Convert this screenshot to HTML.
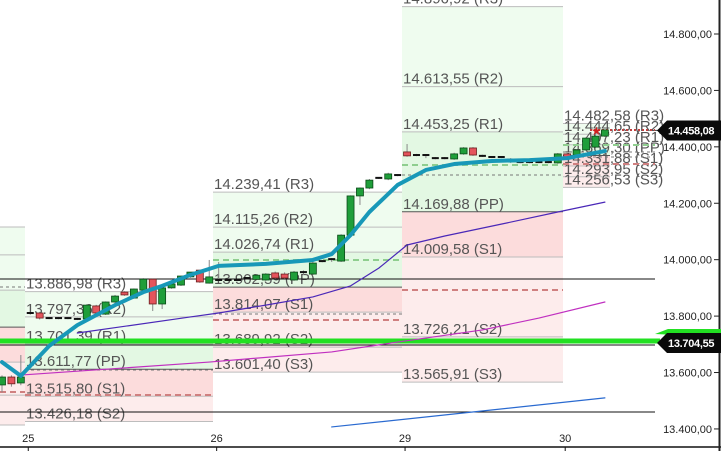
<!DOCTYPE html>
<html><head><meta charset="utf-8"><style>
html,body{margin:0;padding:0;background:#fff;}
svg{display:block;font-family:"Liberation Sans",Arial,sans-serif;}
</style></head><body>
<svg id="chart" width="721" height="451" viewBox="0 0 721 451"></svg>
<script>
// ---- data ----
const dayLabels = ["25","26","29","30"];
const dayTickIndex = [3,23,43,60];
const opens  = [13556,13584,13563,13811,13811,13793,13793,13793,13790,13790,13836,13807,13850,13885,13864,13892,13931,13843,13900,13910,13939,13963,13917,13928,13928,13928,13935,13930,13928,13953,13949,13928,13956,13949,13995,14002,13995,14087,14226,14254,14290,14286,14300,14382,14371,14371,14360,14360,14357,14375,14396,14368,14364,14364,14357,14346,14346,14346,14346,14343,14375,14371,14389,14399,14438];
const highs  = [13590,13590,13662,13815,13815,13797,13797,13797,13794,13842,13840,13852,13875,13888,13898,13935,13934,13850,13903,13918,13946,13960,13999,13992,13932,13932,13938,13948,13952,13958,13955,13960,13962,13992,13999,14006,14090,14228,14256,14286,14293,14308,14303,14410,14375,14374,14364,14364,14379,14399,14399,14372,14367,14367,14360,14349,14349,14349,14349,14378,14378,14392,14434,14462,14462];
const lows   = [13530,13550,13555,13805,13788,13789,13789,13789,13786,13786,13808,13804,13847,13872,13861,13889,13818,13825,13897,13907,13936,13918,13915,13924,13924,13924,13931,13927,13925,13932,13932,13925,13946,13946,13991,13992,13992,14084,14194,14250,14286,14282,14296,14365,14367,14360,14356,14356,14354,14372,14368,14364,14360,14360,14343,14342,14342,14342,14342,14340,14360,14368,14386,14396,14435];
const closes = [13584,13560,13584,13809,13793,13793,13793,13793,13790,13839,13811,13850,13871,13875,13896,13931,13843,13900,13914,13942,13956,13921,13939,13928,13928,13928,13935,13945,13949,13935,13935,13956,13949,13988,13995,13995,14087,14226,14254,14282,14290,14304,14300,14368,14371,14364,14360,14360,14375,14396,14371,14368,14364,14364,14346,14346,14346,14346,14346,14375,14364,14389,14431,14438,14460];
const emaIdx = [0,2,5,8,12,15,17,20,23,28,33,35,37,39,42,45,48,52,56,60,64];
const emaVals = [13637,13588,13694,13768,13839,13885,13907,13946,13978,13985,13999,14020,14087,14169,14265,14318,14339,14350,14353,14360,14385];
const slowIdx = [8,20,23,28,33,37,40,43,47,53,59,64];
const slowVals = [13740,13797,13811,13839,13868,13907,13970,14052,14084,14126,14169,14204];
const magIdx = [2,22,35,42,51,57,64];
const magVals = [13591,13637,13673,13708,13751,13793,13850];
const blueIdx = [35,64];
const blueVals = [13407,13510];
const yTicks = [14800,14600,14400,14200,14000,13800,13600,13400];
const levelNames = ["R3","R2","R1","PP","S1","S2","S3"];
const pivotDay25 = [13886.98,13797.36,13701.39,13611.77,13515.80,13426.18];
const pivotDay26 = [14239.41,14115.26,14026.74,13902.59,13814.07,13689.92,13601.40];
const pivotDay29 = [14896.92,14613.55,14453.25,14169.88,14009.58,13726.21,13565.91];
const pivotDay30 = [14482.58,14444.65,14407.23,14369.30,14331.88,14293.95,14256.53];
const pivotPrev = [14116,14017,13892,13761,13637,13520,13414];
const lastPrice = 14458.08;
const markPrice = 13704.55;

// ---- scales ----
const svg = document.getElementById('chart');
const NS = 'http://www.w3.org/2000/svg';
const xOf = i => 2 + i*9.42;
const yOf = v => 34 + (14800 - v)*0.2821;
const fmt = v => { const s = v.toFixed(2).split('.'); return s[0].replace(/\B(?=(\d{3})+(?!\d))/g,'.')+','+s[1]; };
function mk(tag, attrs, parent){ const e=document.createElementNS(NS,tag); for(const k in attrs) e.setAttribute(k,attrs[k]); (parent||svg).appendChild(e); return e; }

// ---- pivot zones ----
function zone(x0,x1,levels,showLabels,name){
  const g = mk('g',{});
  
  
  const n = levels.length, pp = 3;
  for(let k=0;k<n-1;k++){
    let fill = k<2 ? '#effcef' : (k<pp ? '#e3f8e3' : (k===pp ? '#fcdcdc' : '#fdecec'));
    mk('rect',{x:x0,y:yOf(levels[k]),width:x1-x0,height:yOf(levels[k+1])-yOf(levels[k]),fill:fill},g);
  }
  for(let k=0;k<n;k++){
    const y=yOf(levels[k]);
    mk('line',{x1:x0,x2:x1,y1:y,y2:y,stroke:k===pp?'#555':'#bdbdbd','stroke-width':1},g);
    if(showLabels){
      const t=mk('text',{x:x0+1,y:y-3,'font-size':15,fill:'#555'},g);
      t.textContent=fmt(levels[k])+' ('+levelNames[k]+')';
    }
  }
}
zone(0,25,pivotPrev,false,'pivot-zone-24');
zone(25,213,pivotDay25,true,'pivot-zone-25');
zone(213,402,pivotDay26,true,'pivot-zone-26');
zone(402,563,pivotDay29,true,'pivot-zone-29');
zone(563,610,pivotDay30,true,'pivot-zone-30');

// dashed reference lines
const dashes = [[0,25,287,'#777','3,3'],[0,25,392,'#d08080','6,4'],[25,213,370,'#777','3,3'],[25,213,395,'#d08080','6,4'],
 [213,402,260,'#8fce8f','6,4'],[213,402,314,'#777','3,3'],[213,402,320,'#d08080','6,4'],
 [402,563,165,'#8fce8f','6,4'],[402,563,175,'#777','3,3'],[402,563,290,'#d08080','6,4'],
 [563,655,145,'#8fce8f','6,4'],[563,655,152,'#777','3,3'],[563,655,157,'#777','3,3'],[563,655,164,'#d08080','6,4'],[590,655,130,'#c04040','2,2']];
dashes.forEach(d=>{ const l=mk('line',{x1:d[0],x2:d[1],y1:d[2],y2:d[2],stroke:d[3],'stroke-width':d[3]==='#777'?1:2,'stroke-dasharray':d[4]});
    });

// full-width black lines
[279,345,412].forEach(y=>{ const l=mk('line',{x1:0,x2:655,y1:y,y2:y,stroke:'#111','stroke-width':1});
    });
const gl = mk('line',{x1:0,x2:660,y1:yOf(markPrice)-2,y2:yOf(markPrice)-2,stroke:'#22e022','stroke-width':5});



// ---- moving averages ----
function series(idx,vals,color,w,name){
  const p=mk('polyline',{points:idx.map((i,k)=>xOf(i)+','+yOf(vals[k])).join(' '),fill:'none',stroke:color,'stroke-width':w,'stroke-linejoin':'round','stroke-linecap':'round'});
  
  
}
series(blueIdx,blueVals,'#2a6ad0',1.2,'long-ma-line');
series(magIdx,magVals,'#c030c0',1.2,'mid-ma-line');
series(slowIdx,slowVals,'#4a28b8',1.2,'slow-ma-line');

// ---- candles ----
for(let i=0;i<opens.length;i++){
  const x=xOf(i), o=opens[i], c=closes[i], up=c>=o;
  const g=mk('g',{});
  
  
  mk('line',{x1:x,x2:x,y1:yOf(highs[i]),y2:yOf(lows[i]),stroke:'#888','stroke-width':1},g);
  const top=yOf(Math.max(o,c)), h=Math.abs(yOf(o)-yOf(c));
  if(h<2){ mk('rect',{x:x-3.5,y:top-1,width:7,height:2,fill:'#111'},g); }
  else mk('rect',{x:x-3.5,y:top,width:7,height:h,fill:up?'#1f9e3a':'#e4545c',stroke:up?'#0b4a18':'#6a2020','stroke-width':0.8},g);
}
series(emaIdx,emaVals,'#1898b8',4,'fast-ema-line');

// star marker
const st=mk('text',{x:591,y:135,'font-size':12,fill:'#d02020'}); st.textContent='★';
 

// ---- axes ----
const ax=mk('line',{x1:0,x2:721,y1:447,y2:447,stroke:'#111','stroke-width':1.5});
 
const ay=mk('line',{x1:719.5,x2:719.5,y1:0,y2:451,stroke:'#222','stroke-width':2});
 
dayLabels.forEach((d,k)=>{
  const x=xOf(dayTickIndex[k])-2;
  mk('line',{x1:x,x2:x,y1:447,y2:451,stroke:'#111'});
  const t=mk('text',{x:x,y:442,'font-size':11,fill:'#222','text-anchor':'middle'}); t.textContent=d;
   
});
yTicks.forEach(v=>{
  const y=yOf(v);
  mk('line',{x1:714,x2:719,y1:y,y2:y,stroke:'#222'});
  const t=mk('text',{x:712,y:y+4,'font-size':11,fill:'#222','text-anchor':'end'}); t.textContent=fmt(v);
   
});
function tag(v,name,green){
  const y=yOf(v);
  const g=mk('g',{});
  
  
  if(green) mk('path',{d:`M655 ${y-9} L668 ${y-14} L721 ${y-14} L721 ${y-6} Z`,fill:'#22e022'},g);
  mk('path',{d:`M657 ${y} L667 ${y-10} L721 ${y-10} L721 ${y+10} L667 ${y+10} Z`,fill:'#0a0a0a'},g);
  const t=mk('text',{x:668,y:y+4,'font-size':11,'font-weight':'bold',fill:'#fff','letter-spacing':'-0.3'},g); t.textContent=fmt(v);
}
tag(lastPrice,'last-price-tag',false);
tag(markPrice,'alert-price-tag',true);
</script>
</body></html>
